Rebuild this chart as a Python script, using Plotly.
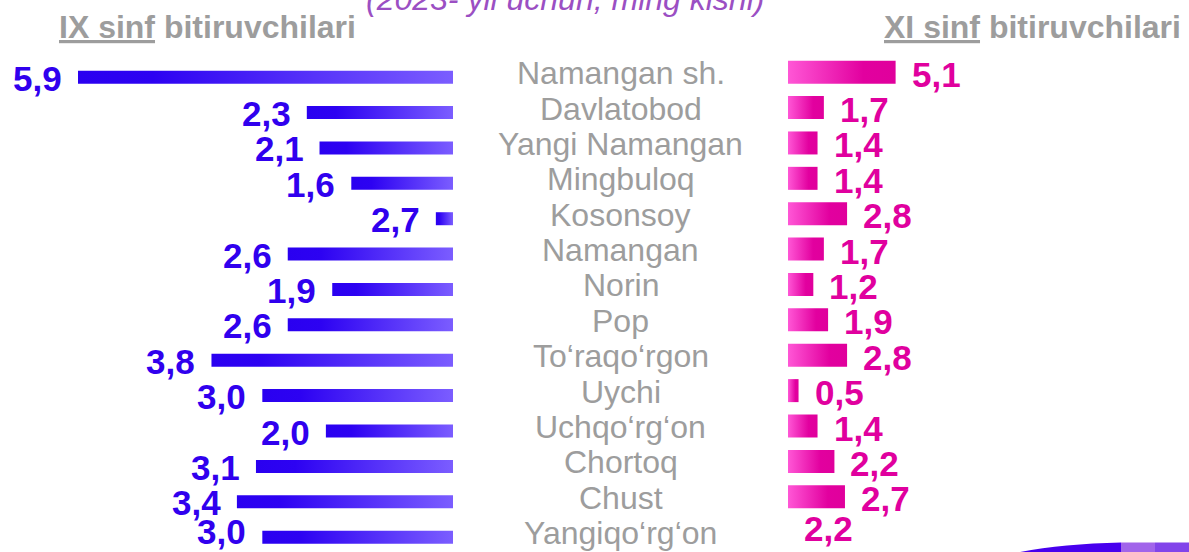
import plotly.graph_objects as go

# ---------------- data ----------------
districts = ["Namangan sh.", "Davlatobod", "Yangi Namangan", "Mingbuloq", "Kosonsoy",
             "Namangan", "Norin", "Pop", "To‘raqo‘rgon", "Uychi", "Uchqo‘rg‘on",
             "Chortoq", "Chust", "Yangiqo‘rg‘on"]
# IX sinf (left side): printed labels and drawn bar lengths (as seen in the picture)
ix_labels = ["5,9", "2,3", "2,1", "1,6", "2,7", "2,6", "1,9", "2,6", "3,8", "3,0",
             "2,0", "3,1", "3,4", "3,0"]
ix_bars = [5.9, 2.3, 2.1, 1.6, 0.27, 2.6, 1.9, 2.6, 3.8, 3.0, 2.0, 3.1, 3.4, 3.0]
# XI sinf (right side)
xi_labels = ["5,1", "1,7", "1,4", "1,4", "2,8", "1,7", "1,2", "1,9", "2,8", "0,5",
             "1,4", "2,2", "2,7", "2,2"]
xi_bars = [5.1, 1.7, 1.4, 1.4, 2.8, 1.7, 1.2, 1.9, 2.8, 0.5, 1.4, 2.2, 2.7, 0.0]

title_text = "(2023- yil uchun, ming kishi)"
left_header = "<u>IX sinf</u> bitiruvchilari"
right_header = "<u>XI sinf</u> bitiruvchilari"

# ---------------- style ----------------
W, H = 1189, 552
ROW_PX = 35.38
BLUE_H = 13 / ROW_PX
MAG_H = 23 / ROW_PX
blue_scale = [[0, "#2a00f0"], [0.2, "#2d02f2"], [1, "#7b5dff"]]
mag_scale = [[0, "#ff57d6"], [0.7, "#e2009f"], [1, "#e0009c"]]
BLUE_TXT = "#3000ee"
MAG_TXT = "#e0009e"
GRAY = "#9d9d9d"
VAL_FONT = "Liberation Sans"
n = len(districts)

fig = go.Figure()

for i, v in enumerate(ix_bars):
    fig.add_trace(go.Scatter(
        x=[0, v, v, 0, 0], y=[i - BLUE_H, i - BLUE_H, i, i, i - BLUE_H],
        xaxis="x", yaxis="y", mode="lines", fill="toself",
        line=dict(width=0, color="rgba(0,0,0,0)"),
        fillgradient=dict(type="horizontal", colorscale=blue_scale),
        hoverinfo="skip", showlegend=False))

for i, v in enumerate(xi_bars):
    if v <= 0:
        continue
    fig.add_trace(go.Scatter(
        x=[0, v, v, 0, 0], y=[i - MAG_H, i - MAG_H, i, i, i - MAG_H],
        xaxis="x2", yaxis="y", mode="lines", fill="toself",
        line=dict(width=0, color="rgba(0,0,0,0)"),
        fillgradient=dict(type="horizontal", colorscale=mag_scale),
        hoverinfo="skip", showlegend=False))

annotations = []
for i, (v, t) in enumerate(zip(ix_bars, ix_labels)):
    last = (i == n - 1)
    annotations.append(dict(
        x=v, y=i - BLUE_H / 2, xref="x", yref="y", text=t, showarrow=False,
        xanchor="right", yanchor="middle", xshift=-14, yshift=6 if last else -1,
        font=dict(family=VAL_FONT, size=35, color=BLUE_TXT, weight="bold")))
for i, (v, t) in enumerate(zip(xi_bars, xi_labels)):
    last = (i == n - 1)
    annotations.append(dict(
        x=v, y=i - MAG_H / 2, xref="x2", yref="y", text=t, showarrow=False,
        xanchor="left", yanchor="middle", xshift=14, yshift=4 if last else -2,
        font=dict(family=VAL_FONT, size=35, color=MAG_TXT, weight="bold")))
for i, name in enumerate(districts):
    annotations.append(dict(
        x=620.5 / W, y=i - MAG_H / 2, xref="paper", yref="y", text=name,
        showarrow=False, xanchor="center", yanchor="middle", yshift=-1,
        font=dict(family="Liberation Sans", size=32, color=GRAY)))

annotations += [
    dict(x=207 / W, y=1 - 27 / H, xref="paper", yref="paper", text=f"<b>{left_header}</b>",
         showarrow=False, xanchor="center", yanchor="middle",
         font=dict(family="Liberation Sans", size=32, color=GRAY)),
    dict(x=1183 / W, y=1 - 27 / H, xref="paper", yref="paper", text=f"<b>{right_header}</b>",
         showarrow=False, xanchor="right", yanchor="middle",
         font=dict(family="Liberation Sans", size=32, color=GRAY)),
    dict(x=565 / W, y=1 + 1 / H, xref="paper", yref="paper", text=f"<i>{title_text}</i>",
         showarrow=False, xanchor="center", yanchor="middle",
         font=dict(family="Liberation Sans", size=32, color="#9b4fc3")),
]

def px(x, y):
    return f"{x / W:.5f},{1 - y / H:.5f}"

shapes = [
    dict(type="path", xref="paper", yref="paper",
         path=f"M {px(1015, 553)} Q {px(1060, 544)} {px(1121, 542.5)} L {px(1121, 553)} Z",
         fillcolor="#4800ee", line=dict(width=0)),
    dict(type="rect", xref="paper", yref="paper", x0=1121 / W, x1=1155 / W,
         y0=0, y1=1 - 542.5 / H, fillcolor="#a164ea", line=dict(width=0)),
    dict(type="rect", xref="paper", yref="paper", x0=1155 / W, x1=1,
         y0=0, y1=1 - 542.5 / H, fillcolor="#8244ea", line=dict(width=0)),
]

LEFT_PX = 63.56
RIGHT_PX = 21.1
left_w = 453
right_w = W - 788
y_top = -83.7 / ROW_PX
y_bot = (H - 83.7) / ROW_PX

fig.update_layout(
    width=W, height=H, margin=dict(l=0, r=0, t=0, b=0),
    paper_bgcolor="white", plot_bgcolor="white", showlegend=False,
    xaxis=dict(domain=[0, left_w / W], range=[left_w / LEFT_PX, 0], visible=False,
               fixedrange=True, anchor="y"),
    xaxis2=dict(domain=[788 / W, 1], range=[0, right_w / RIGHT_PX], visible=False,
                fixedrange=True, anchor="y"),
    yaxis=dict(domain=[0, 1], range=[y_bot, y_top], visible=False, fixedrange=True),
    annotations=annotations, shapes=shapes,
)

fig.write_html("out.html", config={"displayModeBar": False},
               post_script="document.body.style.margin='0px';document.body.style.overflow='hidden';")
